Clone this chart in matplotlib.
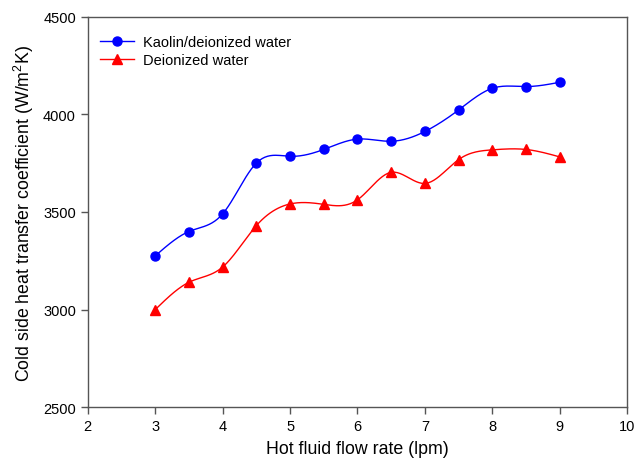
import numpy as np
import matplotlib
matplotlib.use('Agg')
import matplotlib.pyplot as plt

# Data
flow_rate = [3, 3.5, 4, 4.5, 5, 5.5, 6, 6.5, 7, 7.5, 8, 8.5, 9]
kaolin_htc = [3275, 3400, 3490, 3750, 3785, 3820, 3873, 3862, 3912, 4022, 4133, 4142, 4164]
water_htc = [3000, 3140, 3218, 3430, 3541, 3539, 3562, 3703, 3646, 3768, 3818, 3820, 3782]

BLUE = '#0000FF'
RED = '#FF0000'
SPINE = '#555555'


def natural_spline(x, y, n=300):
    """Smooth curve through the points (natural cubic spline), like SigmaPlot's spline line."""
    x = np.asarray(x, float)
    y = np.asarray(y, float)
    k = len(x)
    h = np.diff(x)
    A = np.zeros((k, k))
    b = np.zeros(k)
    A[0, 0] = A[-1, -1] = 1
    for i in range(1, k - 1):
        A[i, i - 1] = h[i - 1]
        A[i, i] = 2 * (h[i - 1] + h[i])
        A[i, i + 1] = h[i]
        b[i] = 6 * ((y[i + 1] - y[i]) / h[i] - (y[i] - y[i - 1]) / h[i - 1])
    M = np.linalg.solve(A, b)
    xs = np.linspace(x[0], x[-1], n)
    idx = np.clip(np.searchsorted(x, xs) - 1, 0, k - 2)
    x0, x1 = x[idx], x[idx + 1]
    hh = x1 - x0
    t0, t1 = x1 - xs, xs - x0
    ys = (M[idx] * t0 ** 3 + M[idx + 1] * t1 ** 3) / (6 * hh) \
        + (y[idx] / hh - M[idx] * hh / 6) * t0 \
        + (y[idx + 1] / hh - M[idx + 1] * hh / 6) * t1
    return xs, ys


plt.rcParams['font.family'] = ['Liberation Sans', 'DejaVu Sans']
plt.rcParams['mathtext.fontset'] = 'custom'
plt.rcParams['mathtext.rm'] = 'Liberation Sans'
plt.rcParams['mathtext.it'] = 'Liberation Sans'

fig = plt.figure(figsize=(6.36, 4.64), dpi=100)
ax = fig.add_axes([0.138, 0.12, 0.848, 0.842])

series = [
    (kaolin_htc, BLUE, 'o', 6.5, 'Kaolin/deionized water'),
    (water_htc, RED, '^', 7.5, 'Deionized water'),
]
for ys, color, marker, msize, label in series:
    sx, sy = natural_spline(flow_rate, ys)
    ax.plot(sx, sy, color=color, linewidth=1.0, zorder=2)
    ax.plot(flow_rate, ys, linestyle='none', marker=marker, markersize=msize,
            color=color, markeredgecolor=color, zorder=3)
    # legend proxy
    ax.plot([], [], color=color, linewidth=1.0, marker=marker, markersize=msize, label=label)

ax.set_xlim(2, 10)
ax.set_ylim(2500, 4500)
ax.set_xticks(range(2, 11))
ax.set_yticks(range(2500, 4501, 500))

for side in ['top', 'right', 'left', 'bottom']:
    ax.spines[side].set_color(SPINE)
    ax.spines[side].set_linewidth(1.0)
ax.tick_params(direction='out', length=5, width=1.0, color=SPINE, labelsize=10.5,
               top=False, right=False)

ax.set_xlabel('Hot fluid flow rate (lpm)', fontsize=12.8, labelpad=5)
ax.set_ylabel('Cold side heat transfer coefficient (W/m$^2$K)', fontsize=12.8, labelpad=5)

ax.legend(loc='upper left', frameon=False, fontsize=10.5, handlelength=2.33,
          borderaxespad=0, borderpad=0, labelspacing=0.28, handletextpad=0.62,
          bbox_to_anchor=(0.0228, 0.953))

fig.savefig('out.png', dpi=100)
